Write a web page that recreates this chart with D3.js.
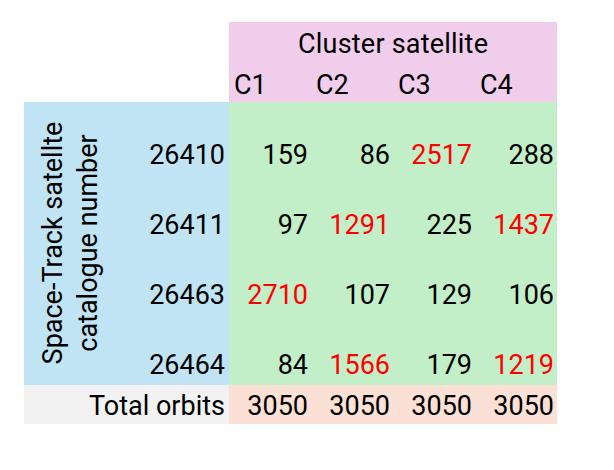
<!DOCTYPE html><html><head><meta charset="utf-8">
<script src="https://cdn.jsdelivr.net/npm/d3@7"></script>
<style>body{margin:0;background:#fff}text{font-family:Roboto,"Liberation Sans",sans-serif;font-size:27px}</style></head>
<body><svg id="c" width="614" height="470"></svg>
<script>
const columns=["C1","C2","C3","C4"];
const rowsLabels=["26410","26411","26463","26464"];
const values=[[159,86,2517,288],[97,1291,225,1437],[2710,107,129,106],[84,1566,179,1219]];
const highlighted=[[0,0,1,0],[0,1,0,1],[1,0,0,0],[0,1,0,1]];
const totals=[3050,3050,3050,3050];
const svg=d3.select("#c");
const x=d3.scaleBand().domain(columns).range([229,557]);
const y=d3.scaleBand().domain(rowsLabels).range([119,399]);
svg.append("rect").attr("x",229).attr("y",22).attr("width",328).attr("height",80).attr("fill","#f1cdec");
svg.append("rect").attr("x",24).attr("y",102).attr("width",205).attr("height",283).attr("fill","#c0e4f4");
svg.append("rect").attr("x",229).attr("y",102).attr("width",328).attr("height",283).attr("fill","#c2eec8");
svg.append("rect").attr("x",24).attr("y",385).attr("width",205).attr("height",39).attr("fill","#f2f2f2");
svg.append("rect").attr("x",229).attr("y",385).attr("width",328).attr("height",39).attr("fill","#fbe0d5");
svg.append("text").attr("x",393).attr("y",53).attr("text-anchor","middle").attr("textLength",190).text("Cluster satellite");
svg.selectAll(".cl").data(columns).join("text").attr("x",d=>x(d)+5).attr("y",94).text(d=>d);
svg.selectAll(".rl").data(rowsLabels).join("text").attr("x",225).attr("y",d=>y(d)+y.bandwidth()/2+10).attr("text-anchor","end").text(d=>d);
values.forEach((r,i)=>{svg.selectAll(null).data(r).join("text")
 .attr("x",(d,j)=>x(columns[j])+x.bandwidth()-3).attr("y",y(rowsLabels[i])+y.bandwidth()/2+10)
 .attr("text-anchor","end").attr("fill",(d,j)=>highlighted[i][j]?"#ff0000":"#000").text(d=>d);});
svg.selectAll(".t").data(totals).join("text").attr("x",(d,j)=>x(columns[j])+x.bandwidth()-3).attr("y",415).attr("text-anchor","end").text(d=>d);
svg.append("text").attr("x",225).attr("y",415).attr("text-anchor","end").text("Total orbits");
svg.append("text").attr("transform","translate(62,243) rotate(-90)").attr("text-anchor","middle").text("Space-Track satellte");
svg.append("text").attr("transform","translate(97,243) rotate(-90)").attr("text-anchor","middle").text("catalogue number");
</script></body></html>
